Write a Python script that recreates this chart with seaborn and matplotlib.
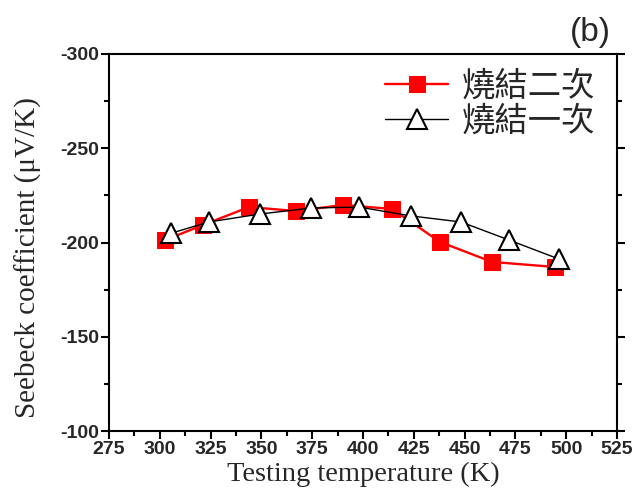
import matplotlib
matplotlib.use("Agg")
import matplotlib.pyplot as plt
import seaborn as sns
import pandas as pd
from matplotlib.ticker import MultipleLocator

# Seebeck coefficient vs. testing temperature for two sintering runs
temp_twice = [302.6, 321.3, 343.9, 367.0, 390.2, 414.3, 437.9, 463.5, 494.5]
seebeck_twice = [-201.3, -209.3, -218.8, -216.7, -219.9, -217.8, -200.3, -189.7, -187.0]
temp_once = [305.5, 324.2, 349.3, 374.4, 398.0, 423.6, 448.2, 471.9, 496.5]
seebeck_once = [-204.9, -210.9, -215.1, -218.3, -218.8, -214.1, -210.9, -201.3, -191.2]
series_labels = ["燒結二次", "燒結一次"]
x_ticks = [275, 300, 325, 350, 375, 400, 425, 450, 475, 500, 525]
y_ticks = [-300, -250, -200, -150, -100]

sns.set_theme(style="white")
plt.rcParams["font.family"] = ["Liberation Serif", "DejaVu Serif"]

df_twice = pd.DataFrame({"T": temp_twice, "S": seebeck_twice})
df_once = pd.DataFrame({"T": temp_once, "S": seebeck_once})

fig = plt.figure(figsize=(6.38, 5.03), dpi=100)
ax = fig.add_axes([109 / 638, 1 - 431 / 503, (617 - 109) / 638, (431 - 54) / 503])

sns.lineplot(data=df_twice, x="T", y="S", ax=ax, estimator=None, sort=False,
             color="#ff0000", linewidth=1.7, marker="s", markersize=11.5,
             markerfacecolor="#ff0000", markeredgecolor="#ff0000",
             label=series_labels[0])
sns.lineplot(data=df_once, x="T", y="S", ax=ax, estimator=None, sort=False,
             color="black", linewidth=1.0, marker="^", markersize=14,
             markerfacecolor="white", markeredgecolor="black", markeredgewidth=1.5,
             label=series_labels[1])

ax.set_xlim(275, 525)
ax.set_ylim(-100, -300)
ax.set_xticks(x_ticks)
ax.set_yticks(y_ticks)
ax.xaxis.set_minor_locator(MultipleLocator(12.5))
ax.yaxis.set_minor_locator(MultipleLocator(25))

for side in ["left", "right", "top", "bottom"]:
    ax.spines[side].set_linewidth(1.5)
    ax.spines[side].set_color("black")

ax.tick_params(which="major", direction="out", length=6, width=1.5, color="black",
               left=True, bottom=True, right=True, top=False, labelright=False)
ax.tick_params(which="minor", direction="out", length=3.5, width=1.5, color="black",
               left=True, bottom=True, right=True, top=False)
ax.tick_params(axis="both", which="major", pad=1)

tick_font = {"family": ["Liberation Sans Narrow", "Liberation Sans"], "weight": "bold", "size": 14}
ax.set_xticklabels([str(v) for v in x_ticks], fontdict=tick_font)
ax.set_yticklabels([str(v) for v in y_ticks], fontdict=tick_font)

ax.set_xlabel("Testing temperature (K)", fontsize=20.5)
ax.xaxis.set_label_coords(0.5, -0.082)
ax.set_ylabel("Seebeck coefficient (\u03bcV/K)", fontsize=21)
ax.yaxis.set_label_coords(-0.132, 0.46)

leg = ax.legend(loc="upper left", bbox_to_anchor=(385 / 638, 1 - 69 / 503),
                bbox_transform=fig.transFigure, frameon=False,
                prop={"family": ["Noto Sans CJK TC", "DejaVu Sans"], "size": 24},
                handlelength=1.9, handletextpad=0.4, labelspacing=0.0,
                borderpad=0, borderaxespad=0)

fig.text(590 / 638, 1 - 32 / 503, "(b)", fontsize=24, ha="center", va="center",
         family=["Liberation Sans", "DejaVu Sans"])

fig.savefig("out.png", dpi=100)
